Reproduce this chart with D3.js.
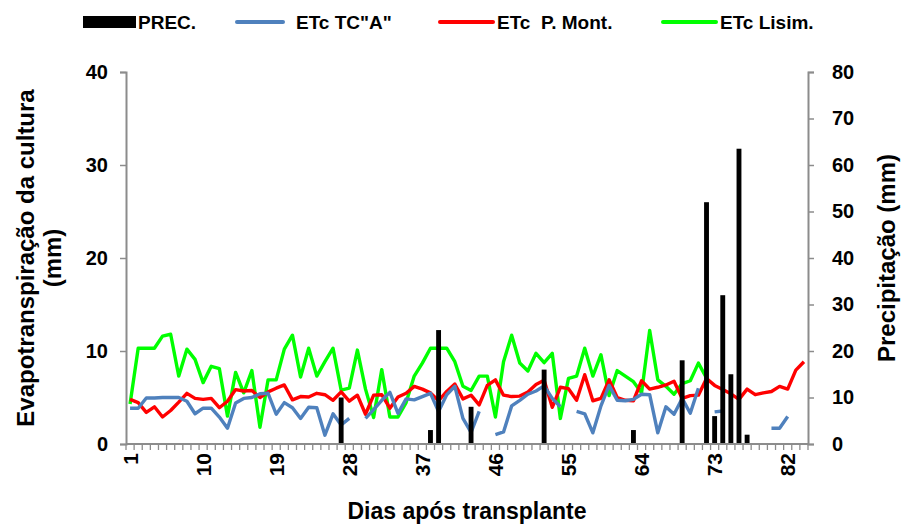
<!DOCTYPE html>
<html>
<head>
<meta charset="utf-8">
<script src="https://cdn.jsdelivr.net/npm/d3@7"></script>
<style>
  body { margin: 0; background: #fff; }
  text { font-family: "Liberation Sans", Arial, sans-serif; font-weight: bold; fill: #000; }
</style>
</head>
<body>
<div id="my_dataviz"></div>
<script>
// days after transplant (1..84)
var days = d3.range(1, 85);

// precipitation (mm), right axis, only days with rain
var precDays = [27, 38, 39, 43, 52, 63, 69, 72, 73, 74, 75, 76, 77];
var precVals = [10, 3, 24.5, 8, 16, 3, 18, 52, 6, 32, 15, 63.5, 2];

// ETc TC"A" (mm), null = no reading
var etcTCA = [3.85, 3.85, 4.95, 4.95, 5.0, 5.0, 5.0, 4.6, 3.25, 3.85,
  3.85, 2.9, 1.7, 4.4, 4.9, 5.0, 5.4, 5.45, 3.2, 4.45,
  3.9, 2.75, 3.95, 3.9, 0.95, 3.25, 2.05, 2.75, null, 2.75,
  3.7, 4.7, 5.55, 3.3, 4.85, 4.75, 5.1, 5.45, 3.5, 5.3,
  6.2, 2.75, 1.25, 3.5, null, 1.0, 1.3, 4.1, 4.7, 5.35,
  5.7, 6.25, 4.9, 4.0, null, 3.5, 3.25, 1.2, 4.1, 6.3,
  4.7, 4.65, 4.8, 5.35, 5.3, 1.2, 4.0, 3.2, 4.9, 3.3,
  6.0, null, 3.45, 3.55, null, null, null, null, null, 1.7,
  1.7, 2.95, null, null];

// ETc P. Mont. (mm)
var etcPM = [4.8, 4.45, 3.4, 4.0, 2.9, 3.6, 4.5, 5.45, 4.9, 4.8,
  4.9, 3.9, 4.6, 5.85, 5.7, 5.75, 5.0, 5.6, 6.0, 6.35,
  4.75, 5.1, 5.05, 5.45, 5.3, 4.7, 5.6, 4.6, 5.25, 3.2,
  5.25, 5.3, 3.85, 5.05, 5.45, 6.2, 5.9, 5.5, 4.65, 5.65,
  6.45, 4.85, 5.25, 4.2, 6.3, 6.9, 5.25, 5.1, 5.15, 5.6,
  6.4, 6.85, 3.95, 6.1, 5.95, 4.7, 7.45, 4.65, 4.9, 6.9,
  5.0, 4.7, 4.65, 6.8, 5.9, 6.1, 6.35, 6.75, 4.9, 5.2,
  5.25, 7.05, 6.3, 5.85, 5.4, 4.8, 5.9, 5.3, 5.5, 5.65,
  6.2, 5.9, 7.95, 8.85];

// ETc Lisim. (mm), ends at day 72
var etcLisim = [4.3, 10.3, 10.3, 10.3, 11.6, 11.8, 7.3, 10.2, 9.1, 6.6,
  8.35, 8.1, 3.0, 7.7, 5.5, 7.9, 1.8, 6.9, 6.9, 10.2,
  11.7, 7.2, 10.3, 7.3, 8.85, 10.3, 5.8, 6.0, 10.1, 5.9,
  2.85, 8.0, 2.9, 2.9, 4.45, 7.3, 8.7, 10.3, 10.3, 10.3,
  8.85, 6.2, 5.75, 7.3, 7.3, 2.9, 8.85, 11.7, 8.7, 7.85,
  9.75, 8.75, 9.75, 2.75, 7.05, 7.3, 10.3, 7.3, 9.6, 5.2,
  7.9, 7.3, 6.7, 5.5, 12.2, 6.9, 6.2, 5.35, 6.5, 6.8,
  8.7, 7.1, null, null, null, null, null, null, null, null,
  null, null, null, null];

var leftTicks = [0, 10, 20, 30, 40];
var rightTicks = [0, 10, 20, 30, 40, 50, 60, 70, 80];
var xTickLabels = [1, 10, 19, 28, 37, 46, 55, 64, 73, 82];

// plot area
var width = 901, height = 527;
var plot = {left: 126, right: 808, top: 72, bottom: 444};

var svg = d3.select("#my_dataviz")
  .append("svg")
    .attr("width", width)
    .attr("height", height);

var x = d3.scaleBand()
  .domain(days)
  .range([plot.left, plot.right])
  .padding(0);

var yL = d3.scaleLinear()
  .domain([0, 40])
  .range([plot.bottom, plot.top]);

var yR = d3.scaleLinear()
  .domain([0, 80])
  .range([plot.bottom, plot.top]);

var axisColor = "#8c8c8c";

// lines
var line = d3.line()
  .defined(function(d) { return d.v != null; })
  .x(function(d) { return x(d.day) + x.bandwidth() / 2; })
  .y(function(d) { return yL(d.v); });

var series = [
  {name: "ETc TC\"A\"", vals: etcTCA, color: "#4f81bd"},
  {name: "ETc  P. Mont.", vals: etcPM, color: "#ff0000"},
  {name: "ETc Lisim.", vals: etcLisim, color: "#00ff00"}
];

// draw green first, then red and blue
[series[2], series[1], series[0]].forEach(function(s) {
  var pts = days.map(function(d, i) { return {day: d, v: s.vals[i]}; });
  svg.append("path")
    .datum(pts)
    .attr("fill", "none")
    .attr("stroke", s.color)
    .attr("stroke-width", 3.4)
    .attr("stroke-linejoin", "round")
    .attr("d", line);
});

// precipitation bars
var bw = x.bandwidth() * 0.6;
svg.append("g")
  .selectAll("rect")
  .data(precDays.map(function(d, i) { return {day: d, v: precVals[i]}; }))
  .enter().append("rect")
    .attr("x", function(d) { return x(d.day) + (x.bandwidth() - bw) / 2; })
    .attr("y", function(d) { return yR(d.v); })
    .attr("width", bw)
    .attr("height", function(d) { return plot.bottom - yR(d.v); })
    .attr("fill", "#000");

// left axis
var gL = svg.append("g")
  .attr("transform", "translate(" + plot.left + ",0)")
  .call(d3.axisLeft(yL).tickValues(leftTicks).tickSize(6).tickPadding(12));

// right axis
var gR = svg.append("g")
  .attr("transform", "translate(" + plot.right + ",0)")
  .call(d3.axisRight(yR).tickValues(rightTicks).tickSize(6).tickPadding(18));

// x axis: a tick at every category boundary, labels every 9 days
var bounds = days.map(function(d) { return x(d); }).concat([plot.right]);
var gX = svg.append("g");
gX.append("line")
  .attr("x1", plot.left).attr("x2", plot.right)
  .attr("y1", plot.bottom).attr("y2", plot.bottom)
  .attr("stroke", axisColor).attr("stroke-width", 2);
gX.selectAll("line.tk")
  .data(bounds)
  .enter().append("line")
    .attr("class", "tk")
    .attr("x1", function(d) { return d; })
    .attr("x2", function(d) { return d; })
    .attr("y1", plot.bottom)
    .attr("y2", plot.bottom + 6)
    .attr("stroke", axisColor)
    .attr("stroke-width", 1.3);
gX.selectAll("text")
  .data(xTickLabels)
  .enter().append("text")
    .attr("transform", function(d) {
      return "translate(" + (x(d) + x.bandwidth() / 2) + "," + (plot.bottom + 9) + ") rotate(-90)";
    })
    .attr("text-anchor", "end")
    .attr("dy", "0.36em")
    .style("font-size", "21px")
    .text(function(d) { return d; });

[gL, gR].forEach(function(g) {
  g.select(".domain").attr("stroke", axisColor).attr("stroke-width", 2);
  g.selectAll(".tick line").attr("stroke", axisColor).attr("stroke-width", 1.5);
  g.selectAll(".tick text")
    .style("font-size", "20px")
    .style("font-family", "'Liberation Sans', Arial, sans-serif")
    .style("font-weight", "bold")
    .attr("fill", "#000");
});

// axis titles
svg.append("text")
  .attr("transform", "translate(34,258) rotate(-90)")
  .attr("text-anchor", "middle")
  .style("font-size", "24px")
  .text("Evapotranspiração da cultura");
svg.append("text")
  .attr("transform", "translate(61,258) rotate(-90)")
  .attr("text-anchor", "middle")
  .style("font-size", "24px")
  .text("(mm)");
svg.append("text")
  .attr("transform", "translate(895,258) rotate(-90)")
  .attr("text-anchor", "middle")
  .style("font-size", "24px")
  .text("Precipitação (mm)");
svg.append("text")
  .attr("x", 467)
  .attr("y", 519)
  .attr("text-anchor", "middle")
  .style("font-size", "23px")
  .text("Dias após transplante");

// legend
var leg = svg.append("g");
leg.append("rect")
  .attr("x", 83).attr("y", 16).attr("width", 53).attr("height", 12)
  .attr("fill", "#000");
leg.append("text").attr("x", 138).attr("y", 29).style("font-size", "19px").text("PREC.");
var legItems = [
  {s: series[0], x1: 237, x2: 283, tx: 296},
  {s: series[1], x1: 440, x2: 493, tx: 497},
  {s: series[2], x1: 663, x2: 716, tx: 720}
];
legItems.forEach(function(it) {
  leg.append("line")
    .attr("x1", it.x1).attr("x2", it.x2)
    .attr("y1", 22).attr("y2", 22)
    .attr("stroke", it.s.color)
    .attr("stroke-width", 4)
    .attr("stroke-linecap", "round");
  leg.append("text")
    .attr("x", it.tx).attr("y", 29)
    .attr("xml:space", "preserve")
    .style("white-space", "pre")
    .style("font-size", "19px")
    .text(it.s.name);
});
</script>
</body>
</html>
